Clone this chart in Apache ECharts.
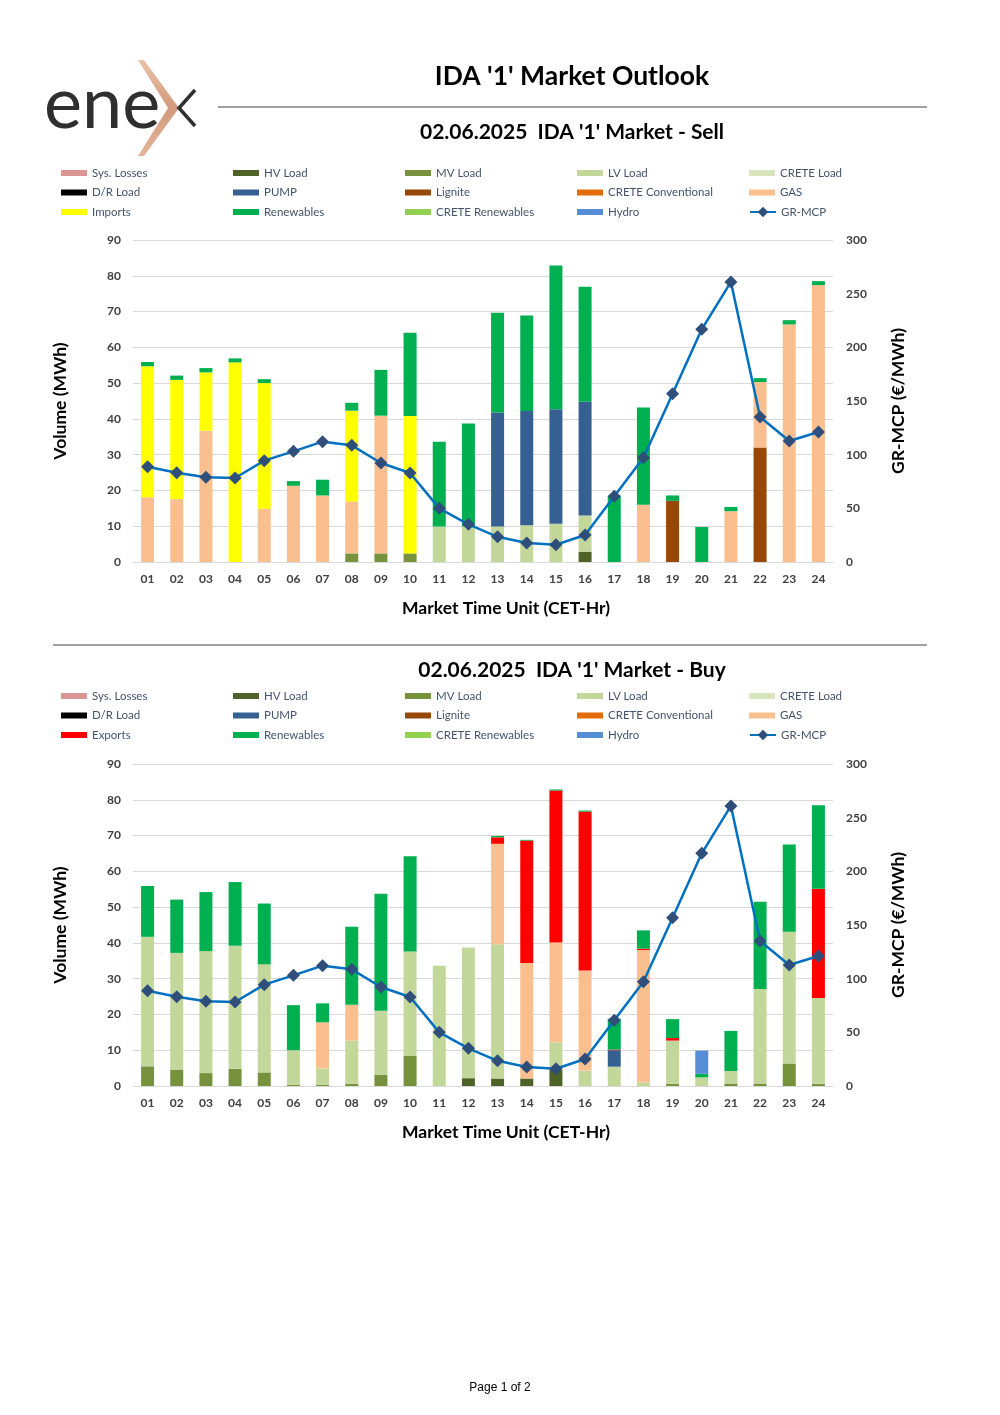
<!DOCTYPE html>
<html><head><meta charset="utf-8">
<script src="https://cdn.jsdelivr.net/npm/echarts@6/dist/echarts.min.js"></script>
<style>html,body{margin:0;padding:0;background:#fff}#c{width:1000px;height:1415px}</style>
</head><body><div id="c"></div>
<script>
// ---------- DATA ----------
const hours = ['01','02','03','04','05','06','07','08','09','10','11','12','13','14','15','16','17','18','19','20','21','22','23','24'];
const leftTicks = [0,10,20,30,40,50,60,70,80,90];
const rightTicks = [0,50,100,150,200,250,300];
const grMcp = [88.8,83.2,78.9,78.3,94.4,103.1,112.1,108.7,92.2,82.9,50.0,35.1,23.5,17.7,16.1,25.2,61.2,97.2,156.8,216.8,260.9,135.1,112.7,121.1];

const zeros = [0,0,0,0,0,0,0,0,0,0,0,0,0,0,0,0,0,0,0,0,0,0,0,0];

// Sell side
const sellSysLosses = zeros;
const sellHV      = [0,0,0,0,0,0,0,0,0,0,0,0,0,0,0,2.9,0,0,0,0,0,0,0,0];
const sellMV      = [0,0,0,0,0,0,0,2.4,2.4,2.4,0,0,0,0,0,0,0,0,0,0,0,0,0,0];
const sellLV      = [0,0,0,0,0,0,0,0,0,0,9.9,9.9,9.9,10.3,10.7,10.1,0,0,0,0,0,0,0,0];
const sellCreteLoad = zeros;
const sellDR      = zeros;
const sellPump    = [0,0,0,0,0,0,0,0,0,0,0,0,31.9,31.9,32.0,31.8,0,0,0,0,0,0,0,0];
const sellLignite = [0,0,0,0,0,0,0,0,0,0,0,0,0,0,0,0,0,0,17.1,0,0,32.0,0,0];
const sellCreteConv = zeros;
const sellGas     = [18.1,17.6,36.7,0,14.9,21.3,18.6,14.5,38.5,0,0,0,0,0,0,0,0,16.0,0,0,14.2,18.3,66.4,77.4];
const sellImports = [36.6,33.3,16.3,55.8,35.1,0,0,25.4,0,38.4,0,0,0,0,0,0,0,0,0,0,0,0,0,0];
const sellRenew   = [1.2,1.2,1.2,1.1,1.1,1.3,4.4,2.2,12.8,23.3,23.7,28.8,27.9,26.7,40.2,32.1,18.6,27.2,1.5,9.8,1.2,1.1,1.2,1.1];
const sellCreteRen = zeros;
const sellHydro   = zeros;

// Buy side
const buySysLosses = zeros;
const buyHV      = [0,0,0,0,0,0,0,0,0,0,0,2.2,2.1,2.1,4.5,0,0,0,0,0,0,0,0,0];
const buyMV      = [5.5,4.6,3.6,4.8,3.8,0.3,0.3,0.6,3.1,8.4,0,0,0,0,0,0,0,0,0.6,0,0.7,0.7,6.3,0.6];
const buyLV      = [36.2,32.6,34.1,34.4,30.2,9.7,4.6,12.1,17.9,29.2,33.6,36.5,37.5,0,7.7,4.3,5.4,1.0,12.1,2.4,3.5,26.4,36.8,24.0];
const buyCreteLoad = zeros;
const buyDR      = zeros;
const buyPump    = [0,0,0,0,0,0,0,0,0,0,0,0,0,0,0,0,4.6,0,0,0,0,0,0,0];
const buyLignite = zeros;
const buyCreteConv = zeros;
const buyGas     = [0,0,0,0,0,0,12.9,10.0,0,0,0,0,28.1,32.3,27.9,28.0,0,37.0,0,0,0,0,0,0];
const buyExports = [0,0,0,0,0,0,0,0,0,0,0,0,1.8,34.2,42.5,44.4,0.2,0.4,0.7,0,0,0,0,30.5];
const buyRenew   = [14.2,14.9,16.5,17.8,17.0,12.6,5.3,21.8,32.7,26.6,0,0,0.4,0.2,0.3,0.3,8.6,5.1,5.3,1.0,11.2,24.4,24.4,23.4];
const buyCreteRen = zeros;
const buyHydro   = [0,0,0,0,0,0,0,0,0,0,0,0,0,0,0,0,0,0,0,6.5,0,0,0,0];

// ---------- STYLE ----------
const COLORS = {
  'Sys. Losses':'#DA9694','HV Load':'#4F6228','MV Load':'#76923C','LV Load':'#C4D79B',
  'CRETE Load':'#D8E4BC','D/R Load':'#000000','PUMP':'#366092','Lignite':'#974706',
  'CRETE Conventional':'#E26B0A','GAS':'#FABF8F','Imports':'#FFFF00','Exports':'#FF0000',
  'Renewables':'#00B050','CRETE Renewables':'#92D050','Hydro':'#558ED5'
};
const FONT = 'Lato';
const sellSeries = [
  ['Sys. Losses',sellSysLosses],['HV Load',sellHV],['MV Load',sellMV],['LV Load',sellLV],
  ['CRETE Load',sellCreteLoad],['D/R Load',sellDR],['PUMP',sellPump],['Lignite',sellLignite],
  ['CRETE Conventional',sellCreteConv],['GAS',sellGas],['Imports',sellImports],
  ['Renewables',sellRenew],['CRETE Renewables',sellCreteRen],['Hydro',sellHydro]
];
const buySeries = [
  ['Sys. Losses',buySysLosses],['HV Load',buyHV],['MV Load',buyMV],['LV Load',buyLV],
  ['CRETE Load',buyCreteLoad],['D/R Load',buyDR],['PUMP',buyPump],['Lignite',buyLignite],
  ['CRETE Conventional',buyCreteConv],['GAS',buyGas],['Exports',buyExports],
  ['Renewables',buyRenew],['CRETE Renewables',buyCreteRen],['Hydro',buyHydro]
];

const grids = [
  {left:133, right:167, top:240, height:322},
  {left:133, right:167, top:764, height:322}
];

function xAxisFor(i){
  return {type:'category', gridIndex:i, data:hours,
    axisLine:{show:true, lineStyle:{color:'#D9D9D9'}}, axisTick:{show:false},
    axisLabel:{color:'#404040', fontFamily:FONT, fontWeight:'bold', fontSize:12, margin:11},
    name:'Market Time Unit (CET-Hr)', nameLocation:'middle', nameGap:37,
    nameTextStyle:{color:'#000', fontFamily:FONT, fontWeight:'bold', fontSize:17.5, padding:[0,0,0,46]}};
}
function yLeftFor(i){
  return {type:'value', gridIndex:i, min:leftTicks[0], max:leftTicks[leftTicks.length-1], interval:10,
    axisLine:{show:false}, axisTick:{show:false},
    splitLine:{lineStyle:{color:'#D9D9D9', width:1}},
    axisLabel:{color:'#404040', fontFamily:FONT, fontWeight:'bold', fontSize:12, margin:12},
    name:'Volume (MWh)', nameLocation:'middle', nameGap:64, nameRotate:90,
    nameTextStyle:{color:'#000', fontFamily:FONT, fontWeight:'bold', fontSize:17.5}};
}
function yRightFor(i){
  return {type:'value', gridIndex:i, position:'right', min:rightTicks[0], max:rightTicks[rightTicks.length-1], interval:50,
    axisLine:{show:false}, axisTick:{show:false}, splitLine:{show:false},
    axisLabel:{color:'#404040', fontFamily:FONT, fontWeight:'bold', fontSize:12, margin:13},
    name:'GR-MCP (€/MWh)', nameLocation:'middle', nameGap:56, nameRotate:90,
    nameTextStyle:{color:'#000', fontFamily:FONT, fontWeight:'bold', fontSize:17.5}};
}

const series = [];
function addChart(defs, gi, stack){
  defs.forEach(([name, data])=>{
    series.push({type:'bar', name, stack, xAxisIndex:gi, yAxisIndex:gi*2, data,
      barWidth:13, itemStyle:{color:COLORS[name]}, emphasis:{disabled:true}});
  });
  series.push({type:'line', name:'GR-MCP', xAxisIndex:gi, yAxisIndex:gi*2+1, data:grMcp,
    z:10, symbol:'diamond', symbolSize:13,
    lineStyle:{color:'#0070C0', width:2.5}, itemStyle:{color:'#2F4E7A'}, emphasis:{disabled:true}});
}
addChart(sellSeries, 0, 'sell');
addChart(buySeries, 1, 'buy');

const LEG_TEXT = {color:'#44546A', fontFamily:FONT, fontSize:11.5, lineHeight:13};
function legendsFor(top, flowName){
  const cols = [
    ['Sys. Losses','D/R Load',flowName],
    ['HV Load','PUMP','Renewables'],
    ['MV Load','Lignite','CRETE Renewables'],
    ['LV Load','CRETE Conventional','Hydro'],
    ['CRETE Load','GAS']
  ];
  const xs = [61,233,405,577,749];
  const out = cols.map((c,k)=>({orient:'vertical', left:xs[k], top, padding:0, itemGap:6.5,
    itemWidth:26, itemHeight:6, selectedMode:false, textStyle:LEG_TEXT,
    data:c.map(n=>({name:n, icon:'rect'}))
  }));
  out.push({orient:'vertical', left:749, top:top+39, padding:0, itemWidth:26, itemHeight:13,
    selectedMode:false, textStyle:LEG_TEXT, data:['GR-MCP']});
  return out;
}
const legends = legendsFor(166.5,'Imports').concat(legendsFor(689.5,'Exports'));

const titleDefs = [
  ["IDA '1' Market Outlook", 572, 79, 26.5, FONT, 'bold'],
  ["02.06.2025  IDA '1' Market - Sell", 572, 134, 21, FONT, 'bold'],
  ["02.06.2025  IDA '1' Market - Buy", 572, 672, 21, FONT, 'bold'],
  ["Page 1 of 2", 500, 1389, 12, 'Liberation Sans', 'normal']
];
const titles = titleDefs.map(([text,x,y,fs,ff,fw])=>({text, left:x, top:y - fs*0.6, padding:0, textAlign:'center',
  textStyle:{fontFamily:ff, fontWeight:fw, fontSize:fs, color:'#000'}}));

const graphic = [
  {type:'line', shape:{x1:218,y1:107,x2:927,y2:107}, style:{stroke:'#404040', lineWidth:1}},
  {type:'line', shape:{x1:53,y1:645,x2:927,y2:645}, style:{stroke:'#404040', lineWidth:1}},
  {type:'text', left:44, top:69, style:{text:'ene', fontFamily:FONT, fontWeight:'normal', fontSize:72, fill:'#2f2f2f'}},
  {type:'polygon', shape:{points:[[138,60],[144,60],[179,108],[144,156],[138,156],[168,108]]},
   style:{fill:new echarts.graphic.LinearGradient(0,0,0,1,[{offset:0,color:'#E9C2A8'},{offset:0.5,color:'#D39A7C'},{offset:1,color:'#E2B59B'}])}},
  {type:'polyline', shape:{points:[[195,90],[179,108],[195,126]]}, style:{stroke:'#2f2f2f', lineWidth:3.5, fill:null}}
];

const chart = echarts.init(document.getElementById('c'), null, {renderer:'canvas'});
chart.setOption({
  animation:false,
  backgroundColor:'#fff',
  title:titles,
  legend:legends,
  grid:grids,
  xAxis:[xAxisFor(0), xAxisFor(1)],
  yAxis:[yLeftFor(0), yRightFor(0), yLeftFor(1), yRightFor(1)],
  series,
  graphic
});
</script></body></html>
